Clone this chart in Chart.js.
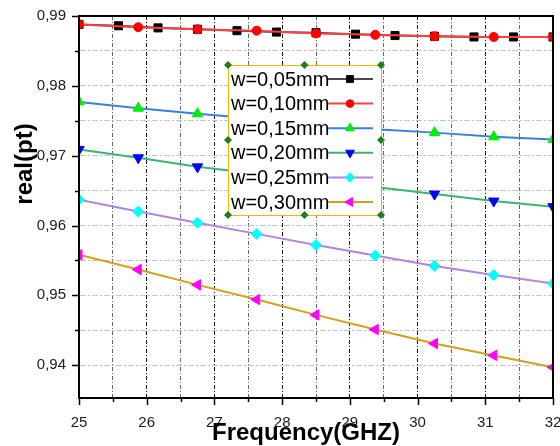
<!DOCTYPE html>
<html>
<head>
<meta charset="utf-8">
<script src="https://cdn.jsdelivr.net/npm/chart.js@4.4.0/dist/chart.umd.min.js"></script>
<style>
  html, body { margin: 0; padding: 0; background: #fff; }
  #wrap { width: 560px; height: 446px; }
</style>
</head>
<body>
<div id="wrap"><canvas id="chart" width="560" height="446"></canvas></div>
<script>
// Frequency points where the markers sit (GHz)
const freqA = [25, 25.875, 26.75, 27.625, 28.5, 29.375, 30.25, 31.125, 32];
const freqB = [25, 25.583, 26.167, 26.75, 27.333, 27.917, 28.5, 29.083, 29.667, 30.25, 30.833, 31.417, 32];

// real(pt) values
const w005 = [0.9888, 0.9886, 0.9883, 0.9881, 0.9879, 0.9877, 0.9876, 0.9874, 0.9872, 0.9871, 0.9870, 0.9870, 0.9870];
const w010 = [0.9888, 0.9884, 0.9881, 0.9879, 0.9875, 0.9873, 0.9871, 0.9870, 0.9870];
const w015 = [0.9777, 0.9768, 0.9760, 0.9753, 0.9745, 0.9738, 0.9733, 0.9727, 0.9723];
const w020 = [0.9709, 0.9697, 0.9684, 0.9674, 0.9664, 0.9655, 0.9645, 0.9635, 0.9627];
const w025 = [0.9637, 0.9620, 0.9604, 0.9588, 0.9572, 0.9557, 0.9542, 0.9529, 0.9517];
const w030 = [0.9558, 0.9537, 0.9515, 0.9494, 0.9472, 0.9451, 0.9431, 0.9414, 0.9397];

const seriesLabels = ['w=0,05mm', 'w=0,10mm', 'w=0,15mm', 'w=0,20mm', 'w=0,25mm', 'w=0,30mm'];

// Tick labels
const xTicks = [25, 26, 27, 28, 29, 30, 31, 32];
const xLabels = ['25', '26', '27', '28', '29', '30', '31', '32'];
const yTicks = [0.94, 0.95, 0.96, 0.97, 0.98, 0.99];
const yLabels = ['0,94', '0,95', '0,96', '0,97', '0,98', '0,99'];

// Styles
const lineColors = ['#4a4a4a', '#ff4040', '#3a7ee0', '#3cb371', '#b283e0', '#d4a017'];
const markerColors = ['#000000', '#ff0000', '#00ee00', '#0000ff', '#00ffff', '#ff00ff'];
const markerStyles = ['rect', 'circle', 'triangle', 'triangle', 'rectRot', 'triangle'];
const markerRotations = [0, 0, 0, 180, 0, -90];
const markerRadius = [5.7, 4.5, 6, 6, 5.5, 6];

const FONT = '"Liberation Sans", Arial, sans-serif';

function toPoints(xs, ys) {
    return xs.map((x, i) => ({ x: x, y: ys[i] }));
}

const seriesData = [
    toPoints(freqB, w005),
    toPoints(freqA, w010),
    toPoints(freqA, w015),
    toPoints(freqA, w020),
    toPoints(freqA, w025),
    toPoints(freqA, w030)
];

const datasets = seriesData.map((data, i) => ({
    label: seriesLabels[i],
    data: data,
    borderColor: lineColors[i],
    backgroundColor: markerColors[i],
    borderWidth: 2,
    pointStyle: markerStyles[i],
    pointRotation: markerRotations[i],
    pointRadius: markerRadius[i],
    pointBackgroundColor: markerColors[i],
    pointBorderColor: markerColors[i],
    pointBorderWidth: 1,
    tension: 0,
    // black series sits under the red one
    order: i === 0 ? 2 : 1
}));

// Legend box inside the plot, with the selection handles
function drawLegend(chart) {
    const ctx = chart.ctx;
    const box = { l: 228, t: 65, r: 381, b: 215 };
    ctx.save();
    ctx.fillStyle = '#ffffff';
    ctx.fillRect(box.l, box.t, box.r - box.l, box.b - box.t);
    ctx.strokeStyle = '#f5b400';
    ctx.lineWidth = 1;
    ctx.strokeRect(box.l + 0.5, box.t + 0.5, box.r - box.l, box.b - box.t);

    ctx.font = '20px ' + FONT;
    ctx.textBaseline = 'middle';
    ctx.textAlign = 'left';
    chart.data.datasets.forEach((ds, i) => {
        const y = 79 + i * 24.6;
        ctx.fillStyle = '#000';
        ctx.fillText(ds.label, 231, y + 1);
        ctx.strokeStyle = ds.borderColor;
        ctx.lineWidth = 2;
        ctx.beginPath();
        ctx.moveTo(328, y);
        ctx.lineTo(373, y);
        ctx.stroke();
        ctx.fillStyle = ds.pointBackgroundColor;
        ctx.strokeStyle = ds.pointBorderColor;
        ctx.lineWidth = 1;
        Chart.helpers.drawPoint(ctx, {
            pointStyle: ds.pointStyle,
            rotation: ds.pointRotation,
            radius: ds.pointRadius * 0.85,
            borderWidth: 1
        }, 350, y);
    });

    const handles = [
        [box.l, box.t], [(box.l + box.r) / 2, box.t], [box.r, box.t],
        [box.l, (box.t + box.b) / 2], [box.r, (box.t + box.b) / 2],
        [box.l, box.b], [(box.l + box.r) / 2, box.b], [box.r, box.b]
    ];
    ctx.fillStyle = '#1e7d1e';
    handles.forEach(([hx, hy]) => {
        ctx.beginPath();
        ctx.moveTo(hx, hy - 4);
        ctx.lineTo(hx + 4, hy);
        ctx.lineTo(hx, hy + 4);
        ctx.lineTo(hx - 4, hy);
        ctx.closePath();
        ctx.fill();
    });
    ctx.restore();
}

// Frame, tick marks and axis titles
function drawFrame(chart) {
    const ctx = chart.ctx;
    const a = chart.chartArea;
    const xs = chart.scales.x;
    const ys = chart.scales.y;
    ctx.save();
    ctx.strokeStyle = '#000';
    ctx.lineWidth = 1.5;
    xs.ticks.forEach(t => {
        const px = Math.round(xs.getPixelForValue(t.value)) + 0.5;
        const len = xTicks.includes(t.value) ? 7 : 4;
        ctx.beginPath();
        ctx.moveTo(px, a.bottom);
        ctx.lineTo(px, a.bottom + len);
        ctx.stroke();
    });
    ys.ticks.forEach(t => {
        const py = Math.round(ys.getPixelForValue(t.value)) + 0.5;
        const len = yTicks.includes(t.value) ? 7 : 4;
        ctx.beginPath();
        ctx.moveTo(a.left, py);
        ctx.lineTo(a.left - len, py);
        ctx.stroke();
    });

    ctx.lineWidth = 2;
    ctx.strokeRect(a.left, a.top, a.right - a.left, a.bottom - a.top);

    ctx.fillStyle = '#000';
    ctx.font = 'bold 24px ' + FONT;
    ctx.textAlign = 'center';
    ctx.textBaseline = 'middle';
    ctx.fillText('Frequency(GHZ)', 306, 433);
    ctx.translate(25, 164);
    ctx.rotate(-Math.PI / 2);
    ctx.fillText('real(pt)', 0, 0);
    ctx.restore();
}

const decorPlugin = {
    id: 'decor',
    afterDatasetsDraw(chart) {
        drawLegend(chart);
    },
    afterDraw(chart) {
        drawFrame(chart);
    }
};

new Chart(document.getElementById('chart'), {
    type: 'line',
    data: { datasets: datasets },
    options: {
        responsive: false,
        animation: false,
        events: [],
        layout: { padding: { left: 0, right: 6, top: 16, bottom: 0 } },
        plugins: {
            legend: { display: false },
            tooltip: { enabled: false }
        },
        scales: {
            x: {
                type: 'linear',
                min: 25,
                max: 32,
                afterBuildTicks(scale) {
                    const vals = xTicks.flatMap(v => v < 32 ? [v, v + 0.5] : [v]);
                    scale.ticks = vals.map(v => ({ value: v }));
                },
                afterFit(scale) {
                    scale.height = 48;
                    scale.paddingLeft = 0;
                    scale.paddingRight = 0;
                },
                ticks: {
                    autoSkip: false,
                    maxRotation: 0,
                    padding: 16,
                    color: '#1a1a1a',
                    font: { family: FONT, size: 15 },
                    callback(value) {
                        const idx = xTicks.indexOf(value);
                        return idx >= 0 ? xLabels[idx] : '';
                    }
                },
                grid: {
                    drawTicks: false,
                    lineWidth: 1,
                    color: ctx => (ctx.tick && xTicks.includes(ctx.tick.value)) ? '#111' : '#666'
                },
                border: { display: true, color: '#000', width: 2, dash: [4, 2, 1, 2] }
            },
            y: {
                type: 'linear',
                min: 0.9353,
                max: 0.99,
                afterBuildTicks(scale) {
                    const vals = yTicks.flatMap(v => v < 0.99 ? [v, v + 0.005] : [v]);
                    scale.ticks = vals.map(v => ({ value: v }));
                },
                afterFit(scale) {
                    scale.width = 79;
                    scale.paddingTop = 0;
                    scale.paddingBottom = 0;
                },
                ticks: {
                    autoSkip: false,
                    padding: 13,
                    color: '#1a1a1a',
                    font: { family: FONT, size: 15 },
                    callback(value) {
                        const idx = yTicks.indexOf(value);
                        return idx >= 0 ? yLabels[idx] : '';
                    }
                },
                grid: {
                    drawTicks: false,
                    lineWidth: 1,
                    color: '#c4c4c4'
                },
                border: { display: true, color: '#000', width: 2, dash: [6, 2, 2, 2] }
            }
        }
    },
    plugins: [decorPlugin]
});
</script>
</body>
</html>
